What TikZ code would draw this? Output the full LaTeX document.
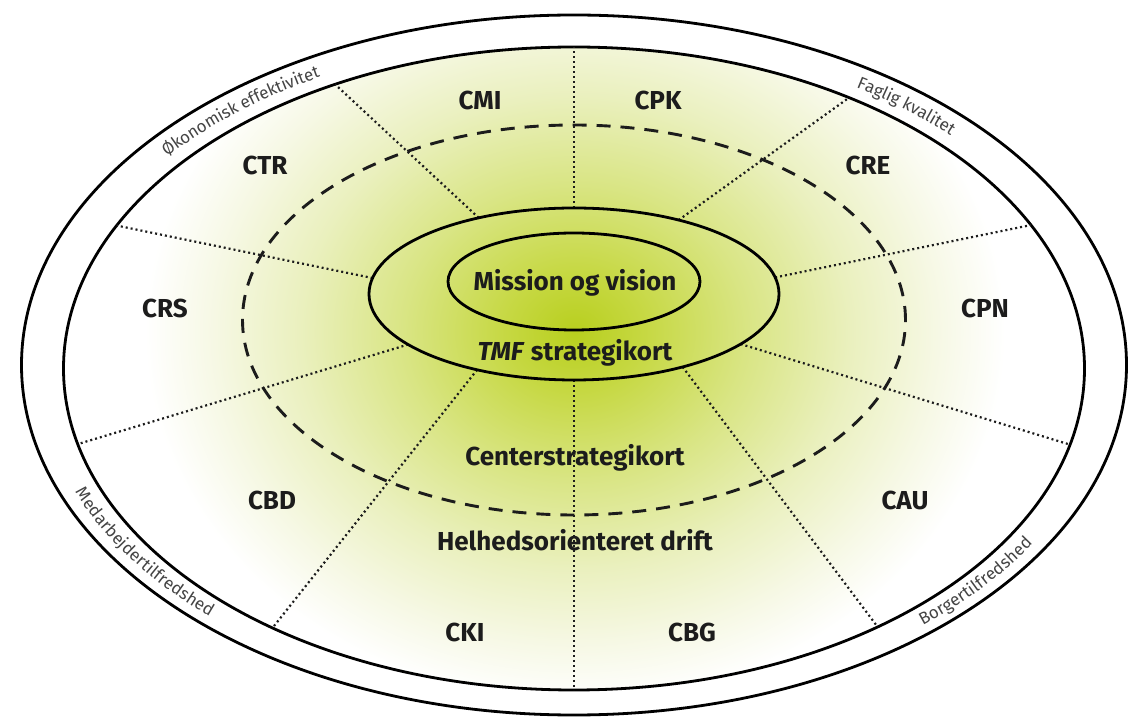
\documentclass[tikz,border=0pt]{standalone}
\usepackage{fontspec}
\setmainfont{Fira Sans}
\usetikzlibrary{decorations.text}
\definecolor{g0}{RGB}{184,207,30}
\definecolor{g1}{RGB}{198,216,66}
\definecolor{g2}{RGB}{217,229,132}
\definecolor{g3}{RGB}{234,240,190}
\definecolor{g4}{RGB}{246,248,228}
\definecolor{inkc}{RGB}{28,28,28}
\definecolor{ringtxt}{RGB}{68,68,68}
\pgfdeclareradialshading{glow}{\pgfpoint{0bp}{0bp}}{color(0bp)=(g0); color(4bp)=(g1); color(10bp)=(g2); color(16bp)=(g3); color(21bp)=(g4); color(25bp)=(white); color(50bp)=(white)}
\newcommand{\ringfont}{\fontsize{17}{19}\selectfont}
\begin{document}
\begin{tikzpicture}[x=1pt,y=1pt,
  ringline/.style={line width=2.8pt, draw=black},
  dashring/.style={line width=2.9pt, draw=inkc, dash pattern=on 14pt off 10pt},
  spoke/.style={line width=2.2pt, draw=inkc, dash pattern=on 2pt off 3pt},
  lbl/.style={font=\fontsize{26}{28}\selectfont\bfseries, text=inkc},
  ringlbl/.style={decorate, decoration={text along path, text align=center, raise=-5pt, text color=ringtxt}}]
\useasboundingbox (0,0) rectangle (1133,726);
\fill[white] (0,0) rectangle (1133,726);
% centres
\coordinate (oc) at (574,361);
\coordinate (ic) at (574,357.5);
\coordinate (dc) at (574,406);
\coordinate (tc) at (574,432);
\coordinate (mc) at (574,444.5);
\coordinate (rc) at (574,359.25);
\coordinate (gc) at (575,394);
% outer ring
\draw[ringline, fill=white] (oc) ellipse [x radius=552.5pt, y radius=350pt];
% inner field with glow
\begin{scope}
  \clip (ic) ellipse [x radius=510.5pt, y radius=321.5pt];
  \fill[white] (ic) ellipse [x radius=510.5pt, y radius=321.5pt];
  \shade[shading=glow] (gc) ellipse [x radius=430pt, y radius=370pt];
\end{scope}
\draw[ringline] (ic) ellipse [x radius=510.5pt, y radius=321.5pt];
% spoke end points
\foreach \n/\ta/\ia in {1/90/90, 2/117.7/117.9, 3/59.3/57.4, 4/169.3/153.6, 5/11.1/26.5,
                       6/216/193.6, 7/324.4/346.3, 8/241.8/233.8, 9/302/306.5, 10/270/270}{
  \coordinate (s\n) at ([shift={(\ta:205pt and 86pt)}]tc);
  \coordinate (e\n) at ([shift={(\ia:510.5pt and 321.5pt)}]ic);
}
\foreach \n in {1,...,10}{ \draw[spoke] (s\n) -- (e\n); }
% dashed ring
\draw[dashring] (dc) ellipse [x radius=331.5pt, y radius=195pt];
% TMF and mission ellipses
\draw[ringline] (tc) ellipse [x radius=205pt, y radius=86pt];
\draw[ringline] (mc) ellipse [x radius=126pt, y radius=48.5pt];
% labels
\node[lbl] (cmi) at (480,626) {CMI};
\node[lbl] (cpk) at (658,626) {CPK};
\node[lbl] (ctr) at (265,561) {CTR};
\node[lbl] (cre) at (868,561) {CRE};
\node[lbl] (crs) at (165,418) {CRS};
\node[lbl] (cpn) at (985,418) {CPN};
\node[lbl] (cbd) at (272,226) {CBD};
\node[lbl] (cau) at (905,226) {CAU};
\node[lbl] (cki) at (465,94) {CKI};
\node[lbl] (cbg) at (692,94) {CBG};
\node[lbl] (mission) at (575,443) {Mission og vision};
\node[lbl] (tmf) at (575,373) {\textit{TMF} strategikort};
\node[lbl] (center) at (575,268) {Centerstrategikort};
\node[lbl] (helhed) at (575,186) {Helhedsorienteret drift};
% ring texts
\path[ringlbl, decoration={text={|\ringfont|Økonomisk effektivitet}}]
  (rc) ++(158:531.5pt and 335.75pt) arc[start angle=158, end angle=105, x radius=531.5pt, y radius=335.75pt];
\path[ringlbl, decoration={text={|\ringfont|Faglig kvalitet}}]
  (rc) ++(75:531.5pt and 335.75pt) arc[start angle=75, end angle=23, x radius=531.5pt, y radius=335.75pt];
\path[ringlbl, decoration={text={|\ringfont|Medarbejdertilfredshed}}]
  (rc) ++(184:531.5pt and 335.75pt) arc[start angle=184, end angle=240, x radius=531.5pt, y radius=335.75pt];
\path[ringlbl, decoration={text={|\ringfont|Borgertilfredshed}}]
  (rc) ++(296:531.5pt and 335.75pt) arc[start angle=296, end angle=348, x radius=531.5pt, y radius=335.75pt];
\end{tikzpicture}
\end{document}
